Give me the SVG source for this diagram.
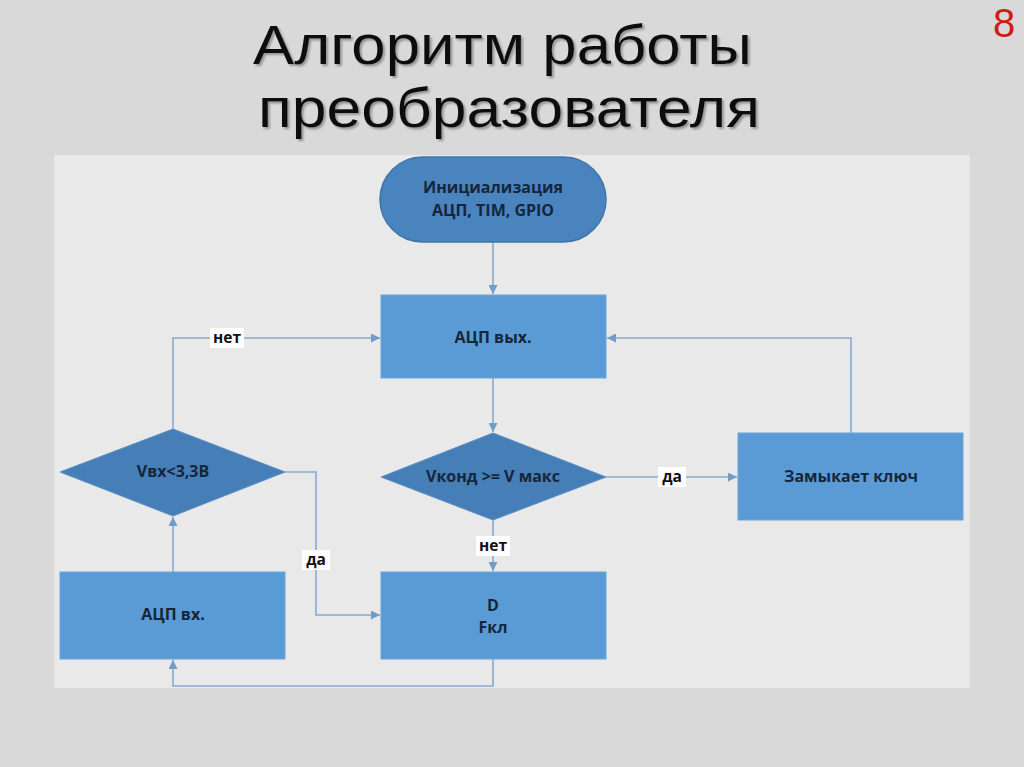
<svg xmlns="http://www.w3.org/2000/svg" width="1024" height="767" viewBox="0 0 1024 767">
<defs>
<style>
.box{fill:#5b9bd5;stroke:#6aa6dc;stroke-width:1}
.dia{fill:#467fb8;stroke:#5a8fc4;stroke-width:1}
.term{fill:#4a84bf;stroke:#3f74aa;stroke-width:1.5}
.t{font-family:"Open Sans","DejaVu Sans",sans-serif;font-weight:bold;font-size:16px;fill:#16263a;text-anchor:middle}
.lbl{font-family:"Open Sans","DejaVu Sans",sans-serif;font-weight:bold;font-size:15.5px;fill:#111;text-anchor:middle}
.lb{fill:#ffffff}
.c{fill:none;stroke:#86abd0;stroke-width:1.6}
.title{font-family:"Liberation Sans",Arial,sans-serif;font-weight:normal;font-size:56px;text-anchor:middle;fill:#111111}
</style>
<filter id="sh" x="-5%" y="-20%" width="110%" height="150%">
<feDropShadow dx="2" dy="2" stdDeviation="1" flood-color="#777777" flood-opacity="0.7"/>
</filter>
<marker id="ah" viewBox="0 0 10 10" refX="10" refY="5" markerWidth="9" markerHeight="9" markerUnits="userSpaceOnUse" orient="auto">
<path d="M0,0 L10,5 L0,10 z" fill="#6f9cc9"/>
</marker>
</defs>
<rect x="0" y="0" width="1024" height="767" fill="#d9d9d9"/>
<rect x="54" y="155" width="916" height="533" fill="#e9e9e9"/>
<g id="title" filter="url(#sh)">
<text class="title" x="502.5" y="64" textLength="499" lengthAdjust="spacingAndGlyphs">Алгоритм работы</text>
<text class="title" x="509" y="127" textLength="502" lengthAdjust="spacingAndGlyphs">преобразователя</text>
</g>
<g id="page">
<text x="1004" y="37" font-family="'Liberation Sans',Arial,sans-serif" font-weight="normal" font-size="40" fill="#d11b1b" text-anchor="middle">8</text>
</g>
<g id="connectors">
<path class="c" d="M493,242 V294" marker-end="url(#ah)"/>
<path class="c" d="M493,378 V432" marker-end="url(#ah)"/>
<path class="c" d="M606,477 H737" marker-end="url(#ah)"/>
<path class="c" d="M851,433 V338 H607" marker-end="url(#ah)"/>
<path class="c" d="M493,520 V571" marker-end="url(#ah)"/>
<path class="c" d="M493,659 V686 H173 V660" marker-end="url(#ah)"/>
<path class="c" d="M173,572 V517" marker-end="url(#ah)"/>
<path class="c" d="M173,429 V338 H380" marker-end="url(#ah)"/>
<path class="c" d="M285,472 H316 V615 H380" marker-end="url(#ah)"/>
<rect class="lb" x="210" y="328" width="34" height="20"/>
<text class="lbl" x="227" y="343">нет</text>
<rect class="lb" x="658" y="467" width="28" height="20"/>
<text class="lbl" x="672" y="482">да</text>
<rect class="lb" x="476" y="536" width="34" height="20"/>
<text class="lbl" x="493" y="551">нет</text>
<rect class="lb" x="302" y="550" width="28" height="20"/>
<text class="lbl" x="316" y="565">да</text>
</g>
<g id="init">
<rect class="term" x="380" y="157" width="226" height="85" rx="42.5" ry="42.5"/>
<text class="t" x="493" y="193">Инициализация</text>
<text class="t" x="493" y="216">АЦП, TIM, GPIO</text>
</g>
<g id="adc_out">
<rect class="box" x="381" y="295" width="225" height="83"/>
<text class="t" x="493" y="343">АЦП вых.</text>
</g>
<g id="cond_vmax">
<polygon class="dia" points="493,433 606,477 493,520 381,477"/>
<text class="t" x="493" y="482">Vконд &gt;= V макс</text>
</g>
<g id="close_key">
<rect class="box" x="738" y="433" width="225" height="87"/>
<text class="t" x="851" y="482">Замыкает ключ</text>
</g>
<g id="d_fkl">
<rect class="box" x="381" y="572" width="225" height="87"/>
<text class="t" x="493" y="611">D</text>
<text class="t" x="493" y="633">Fкл</text>
</g>
<g id="adc_in">
<rect class="box" x="60" y="572" width="225" height="87"/>
<text class="t" x="173" y="620">АЦП вх.</text>
</g>
<g id="cond_vin">
<polygon class="dia" points="173,429 285,472 173,516 60,472"/>
<text class="t" x="173" y="477">Vвх&lt;3,3В</text>
</g>
</svg>
